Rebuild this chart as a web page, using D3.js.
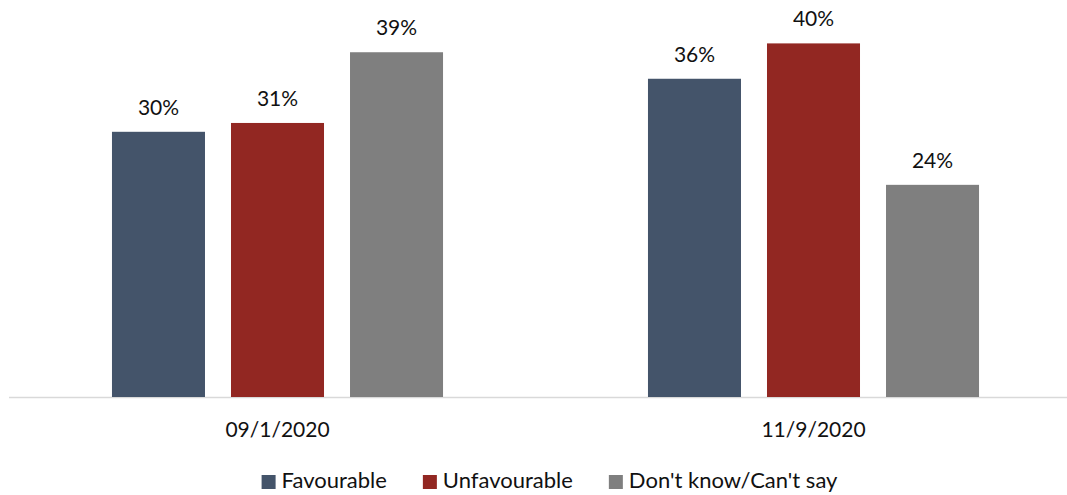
<!DOCTYPE html>
<html>
<head>
<meta charset="utf-8">
<script src="https://cdn.jsdelivr.net/npm/d3@7"></script>
<style>
  html, body { margin: 0; padding: 0; background: #fff; }
  text { font-family: Lato, "Open Sans", sans-serif; fill: #111; }
</style>
</head>
<body>
<div id="chart"></div>
<script>
const dates = ['09/1/2020', '11/9/2020'];
const series = ['Favourable', 'Unfavourable', "Don't know/Can't say"];
const favourable = [30, 36];
const unfavourable = [31, 40];
const dontKnow = [39, 24];

const COLORS = ['#44546A', '#922722', '#7F7F7F'];
const width = 1067,
  height = 495,
  baseY = 397;

const rows = dates.map((d, i) => ({
  date: d,
  values: [favourable[i], unfavourable[i], dontKnow[i]]
}));

let svg = d3.select('#chart').append('svg')
  .attr('width', width)
  .attr('height', height);

const color = d3.scaleOrdinal().domain(series).range(COLORS);

let x0 = d3.scaleBand()
  .domain(dates)
  .range([9.5, 1081.5]);

// bars inside a group, centred on the group's middle
let x1 = d3.scaleBand()
  .domain(series)
  .range([-178.5, 178.5])
  .paddingInner(0.2185)
  .paddingOuter(0.109);

let y = d3.scaleLinear()
  .domain([0, 40])
  .range([baseY, 43.4]);

const cx = d => x0(d) + x0.bandwidth() / 2;

// baseline
svg.append('line')
  .attr('x1', 9).attr('x2', width)
  .attr('y1', baseY + 0.5).attr('y2', baseY + 0.5)
  .attr('stroke', '#D9D9D9')
  .attr('stroke-width', 1.5);

let groups = svg.append('g')
  .selectAll('g')
    .data(rows)
    .enter().append('g')
    .attr('transform', d => 'translate(' + cx(d.date) + ',0)');

let cells = groups.selectAll('g')
  .data(d => d.values.map((v, i) => ({ key: series[i], value: v })))
  .enter().append('g');

cells.append('rect')
  .attr('x', d => x1(d.key))
  .attr('width', x1.bandwidth())
  .attr('y', d => y(d.value))
  .attr('height', d => baseY - y(d.value))
  .style('fill', d => color(d.key));

cells.append('text')
  .attr('x', d => x1(d.key) + x1.bandwidth() / 2)
  .attr('y', d => y(d.value) - 17)
  .attr('text-anchor', 'middle')
  .style('font-size', '21px')
  .text(d => d.value + '%');

// category labels
svg.append('g')
  .selectAll('text')
    .data(dates)
    .enter().append('text')
    .attr('x', d => cx(d))
    .attr('y', 437)
    .attr('text-anchor', 'middle')
    .style('font-size', '21px')
    .text(d => d);

// legend
let legend = svg.append('g');
let items = legend.selectAll('g')
  .data(series)
  .enter().append('g');

items.append('rect')
  .attr('width', 14).attr('height', 14)
  .attr('y', 475)
  .style('fill', d => color(d));

items.append('text')
  .attr('x', 20)
  .attr('y', 488)
  .style('font-size', '22px')
  .text(d => d);

let offset = 0;
items.each(function () {
  const w = d3.select(this).select('text').node().getComputedTextLength();
  d3.select(this).attr('transform', 'translate(' + offset + ',0)');
  offset += 20 + w + 36;
});
const total = offset - 36;
legend.attr('transform', 'translate(' + (549.5 - total / 2) + ',0)');
</script>
</body>
</html>
